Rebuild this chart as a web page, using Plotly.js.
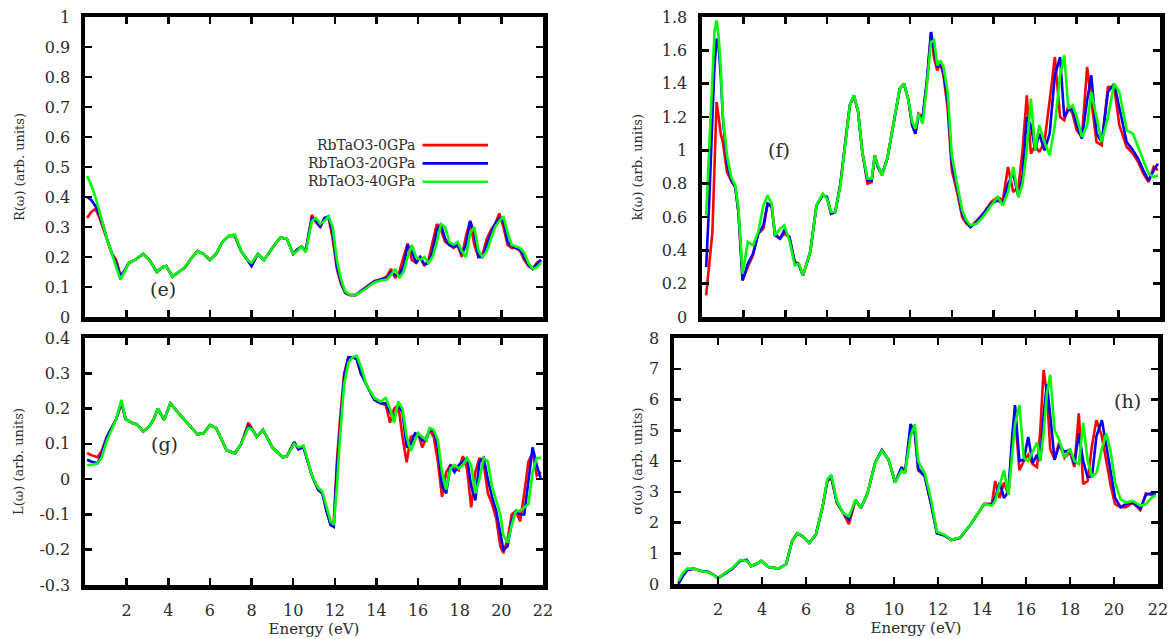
<!DOCTYPE html>
<html>
<head>
<meta charset="utf-8">
<script src="https://cdn.plot.ly/plotly-3.0.1.min.js"></script>
<style>html,body{margin:0;padding:0;background:#fff;}#chart{width:1171px;height:639px;}</style>
</head>
<body>
<div id="chart"></div>
<script>
// ---------- DATA ----------
const seriesNames = ['RbTaO3-0GPa', 'RbTaO3-20GPa', 'RbTaO3-40GPa'];
const xTickVals = [2, 4, 6, 8, 10, 12, 14, 16, 18, 20, 22];
const xTickText = ['2', '4', '6', '8', '10', '12', '14', '16', '18', '20', '22'];
const lossTickVals = [-0.3, -0.2, -0.1, 0, 0.1, 0.2, 0.3, 0.4];
const lossTickText = ['-0.3', '-0.2', '-0.1', '0', '0.1', '0.2', '0.3', '0.4'];

// (e) Reflectivity R(w)
const energyR = [0.1,0.3,0.5,0.7,0.9,1.1,1.3,1.5,1.7,1.9,
  2.1,2.4,2.8,3.1,3.45,3.7,3.9,4.2,4.5,4.8,
  5.1,5.4,5.7,6.0,6.3,6.6,6.9,7.2,7.5,7.8,
  8.0,8.3,8.6,8.9,9.2,9.4,9.7,10.0,10.2,10.4,
  10.6,10.9,11.1,11.3,11.5,11.7,11.9,12.1,12.3,12.5,
  12.7,13.0,13.3,13.6,13.9,14.2,14.5,14.7,14.9,15.1,
  15.3,15.5,15.7,15.9,16.1,16.3,16.5,16.7,16.9,17.1,
  17.3,17.5,17.7,17.9,18.1,18.3,18.5,18.7,18.9,19.1,
  19.3,19.5,19.7,19.9,20.1,20.3,20.5,20.7,20.9,21.1,
  21.3,21.5,21.7,21.9];
const R_0GPa = [0.33,0.35,0.36,0.33,0.29,0.25,0.21,0.19,0.14,0.15,
  0.18,0.19,0.21,0.19,0.15,0.165,0.17,0.135,0.15,0.165,
  0.195,0.22,0.21,0.19,0.21,0.25,0.27,0.27,0.22,0.19,
  0.17,0.21,0.19,0.22,0.25,0.265,0.26,0.21,0.225,0.235,
  0.22,0.34,0.315,0.30,0.33,0.33,0.26,0.16,0.11,0.08,
  0.073,0.073,0.09,0.105,0.12,0.125,0.135,0.16,0.13,0.15,
  0.2,0.245,0.19,0.18,0.2,0.17,0.19,0.25,0.31,0.29,
  0.25,0.24,0.23,0.24,0.2,0.27,0.32,0.24,0.2,0.21,
  0.26,0.29,0.31,0.345,0.3,0.24,0.23,0.23,0.22,0.19,
  0.17,0.16,0.18,0.19];
const R_20GPa = [0.40,0.39,0.37,0.34,0.30,0.25,0.21,0.18,0.135,0.155,
  0.18,0.19,0.21,0.19,0.15,0.165,0.17,0.135,0.15,0.165,
  0.195,0.22,0.21,0.19,0.21,0.25,0.27,0.27,0.22,0.19,
  0.17,0.21,0.19,0.22,0.25,0.265,0.26,0.21,0.225,0.235,
  0.22,0.33,0.32,0.30,0.33,0.335,0.28,0.17,0.115,0.082,
  0.074,0.073,0.088,0.105,0.118,0.125,0.13,0.15,0.14,0.14,
  0.17,0.24,0.22,0.18,0.2,0.175,0.18,0.22,0.29,0.31,
  0.26,0.24,0.235,0.24,0.21,0.24,0.32,0.28,0.2,0.2,
  0.24,0.28,0.31,0.33,0.32,0.25,0.235,0.23,0.225,0.2,
  0.175,0.16,0.175,0.19];
const R_40GPa = [0.47,0.44,0.40,0.35,0.30,0.25,0.21,0.17,0.125,0.15,
  0.18,0.19,0.21,0.19,0.15,0.165,0.17,0.135,0.15,0.165,
  0.195,0.22,0.21,0.19,0.21,0.25,0.27,0.275,0.22,0.19,
  0.18,0.21,0.19,0.22,0.25,0.265,0.26,0.21,0.22,0.235,
  0.215,0.32,0.33,0.31,0.32,0.335,0.3,0.19,0.125,0.085,
  0.075,0.073,0.085,0.1,0.115,0.122,0.125,0.14,0.16,0.13,
  0.15,0.2,0.24,0.2,0.19,0.2,0.18,0.2,0.25,0.31,
  0.3,0.25,0.24,0.25,0.22,0.2,0.28,0.3,0.22,0.2,
  0.22,0.26,0.3,0.32,0.335,0.28,0.24,0.235,0.23,0.215,
  0.18,0.16,0.165,0.18];

// (f) Extinction coefficient k(w)
const energyK = [0.2,0.35,0.5,0.6,0.7,0.8,0.9,1.0,1.2,1.4,
  1.6,1.75,1.95,2.2,2.45,2.7,2.95,3.15,3.35,3.5,
  3.75,3.95,4.2,4.45,4.65,4.85,5.2,5.5,5.8,6.0,
  6.2,6.4,6.65,6.9,7.1,7.3,7.5,7.7,7.95,8.15,
  8.3,8.45,8.65,8.9,9.2,9.5,9.7,9.9,10.1,10.25,
  10.4,10.6,10.8,11.0,11.15,11.3,11.45,11.6,11.8,12.0,
  12.25,12.5,12.7,12.9,13.2,13.5,13.9,14.2,14.45,14.7,
  14.95,15.2,15.4,15.6,15.8,16.0,16.2,16.45,16.7,16.95,
  17.2,17.4,17.6,17.8,18.0,18.25,18.5,18.7,18.95,19.2,
  19.5,19.8,20.05,20.4,20.7,20.95,21.2,21.45,21.7,21.9];
const K_0GPa = [0.13,0.3,0.51,0.9,1.29,1.2,1.1,1.05,0.87,0.82,
  0.78,0.63,0.22,0.3,0.37,0.5,0.53,0.68,0.67,0.5,
  0.47,0.5,0.48,0.33,0.32,0.25,0.39,0.67,0.73,0.72,
  0.62,0.63,0.8,1.07,1.27,1.32,1.23,0.99,0.8,0.81,
  0.97,0.9,0.85,0.95,1.15,1.37,1.4,1.31,1.15,1.1,
  1.22,1.2,1.4,1.71,1.55,1.48,1.52,1.45,1.25,0.88,
  0.75,0.6,0.56,0.54,0.58,0.62,0.69,0.72,0.7,0.9,
  0.75,0.78,1.0,1.33,0.98,1.03,0.99,1.05,1.3,1.56,
  1.2,1.18,1.27,1.22,1.12,1.08,1.5,1.3,1.05,1.03,
  1.38,1.38,1.15,1.02,0.98,0.93,0.86,0.81,0.9,0.88];
const K_20GPa = [0.3,0.7,1.2,1.5,1.67,1.62,1.45,1.2,0.92,0.82,
  0.78,0.63,0.22,0.32,0.38,0.5,0.55,0.68,0.66,0.49,
  0.47,0.52,0.48,0.33,0.31,0.25,0.39,0.67,0.73,0.72,
  0.62,0.63,0.8,1.07,1.27,1.33,1.23,0.99,0.82,0.82,
  0.97,0.9,0.86,0.95,1.15,1.37,1.4,1.31,1.15,1.1,
  1.21,1.2,1.42,1.71,1.6,1.5,1.53,1.47,1.3,0.92,
  0.78,0.62,0.57,0.54,0.57,0.62,0.68,0.7,0.68,0.8,
  0.86,0.72,0.85,1.2,1.15,1.0,1.1,1.0,1.1,1.45,
  1.56,1.2,1.24,1.25,1.15,1.07,1.3,1.45,1.1,1.05,
  1.35,1.4,1.25,1.05,1.0,0.95,0.88,0.82,0.88,0.92];
const K_40GPa = [0.61,1.05,1.4,1.71,1.78,1.68,1.5,1.21,0.97,0.84,
  0.79,0.65,0.26,0.45,0.43,0.51,0.67,0.73,0.68,0.49,
  0.53,0.55,0.46,0.31,0.32,0.25,0.39,0.67,0.74,0.71,
  0.63,0.63,0.79,1.07,1.27,1.33,1.23,0.99,0.83,0.83,
  0.97,0.91,0.85,0.95,1.15,1.37,1.4,1.31,1.17,1.13,
  1.22,1.16,1.39,1.65,1.66,1.51,1.54,1.5,1.35,0.97,
  0.8,0.64,0.58,0.55,0.56,0.6,0.67,0.72,0.67,0.75,
  0.9,0.72,0.8,1.0,1.31,1.0,1.15,1.05,0.97,1.15,
  1.45,1.57,1.25,1.27,1.2,1.08,1.15,1.35,1.2,1.05,
  1.2,1.4,1.35,1.12,1.1,1.02,0.95,0.86,0.84,0.85];

// (g) Energy loss L(w)
const energyL = [0.1,0.3,0.6,0.8,1.05,1.3,1.5,1.75,1.95,2.25,
  2.5,2.8,3.1,3.3,3.5,3.8,4.1,4.45,4.9,5.4,
  5.7,6.0,6.3,6.8,7.2,7.5,7.85,8.05,8.25,8.55,
  9.0,9.5,9.7,10.05,10.25,10.5,10.9,11.2,11.4,11.6,
  11.8,11.95,12.1,12.25,12.45,12.65,12.85,13.05,13.25,13.5,
  13.9,14.2,14.45,14.65,14.85,15.05,15.25,15.45,15.65,15.85,
  16.0,16.2,16.4,16.55,16.75,16.95,17.15,17.35,17.55,17.75,
  17.95,18.15,18.35,18.55,18.75,18.95,19.15,19.35,19.55,19.75,
  19.95,20.1,20.3,20.5,20.7,20.9,21.1,21.3,21.5,21.7,
  21.9];
const L_0GPa = [0.074,0.068,0.062,0.08,0.12,0.15,0.17,0.215,0.17,0.16,
  0.155,0.135,0.15,0.17,0.2,0.168,0.215,0.19,0.16,0.127,
  0.13,0.153,0.145,0.082,0.073,0.1,0.16,0.14,0.12,0.14,
  0.09,0.062,0.065,0.105,0.085,0.09,0.01,-0.03,-0.04,-0.09,
  -0.13,-0.12,0.05,0.17,0.3,0.345,0.345,0.34,0.3,0.27,
  0.225,0.215,0.21,0.16,0.2,0.21,0.12,0.048,0.12,0.125,
  0.13,0.09,0.12,0.14,0.12,0.05,-0.05,0.02,0.04,0.035,
  0.025,0.065,0.03,-0.08,0.02,0.06,0.045,-0.04,-0.07,-0.11,
  -0.19,-0.21,-0.17,-0.1,-0.09,-0.12,-0.04,0.05,0.075,0.01,
  0.02];
const L_20GPa = [0.055,0.05,0.045,0.07,0.12,0.15,0.17,0.22,0.17,0.16,
  0.155,0.135,0.15,0.17,0.2,0.168,0.215,0.19,0.16,0.127,
  0.13,0.153,0.145,0.082,0.073,0.1,0.15,0.14,0.12,0.14,
  0.09,0.062,0.065,0.105,0.085,0.09,0.01,-0.03,-0.04,-0.09,
  -0.13,-0.135,0.03,0.15,0.29,0.345,0.345,0.34,0.3,0.27,
  0.225,0.215,0.215,0.19,0.17,0.21,0.19,0.09,0.1,0.13,
  0.125,0.11,0.11,0.14,0.135,0.09,-0.02,-0.04,0.04,0.02,
  0.04,0.05,0.06,-0.02,-0.06,0.05,0.06,0.0,-0.05,-0.09,
  -0.15,-0.2,-0.19,-0.12,-0.09,-0.1,-0.1,0.0,0.09,0.04,
  0.0];
const L_40GPa = [0.04,0.04,0.045,0.06,0.11,0.145,0.17,0.225,0.17,0.16,
  0.155,0.135,0.15,0.17,0.2,0.168,0.215,0.19,0.16,0.127,
  0.13,0.153,0.145,0.082,0.073,0.1,0.145,0.14,0.12,0.14,
  0.09,0.062,0.065,0.1,0.09,0.095,0.01,-0.025,-0.035,-0.08,
  -0.12,-0.13,-0.02,0.12,0.27,0.33,0.345,0.35,0.32,0.27,
  0.23,0.22,0.23,0.2,0.16,0.22,0.2,0.12,0.08,0.11,
  0.13,0.12,0.11,0.145,0.14,0.11,0.02,-0.03,0.03,0.04,
  0.03,0.04,0.06,0.04,-0.04,0.0,0.06,0.05,-0.02,-0.06,
  -0.1,-0.16,-0.18,-0.13,-0.09,-0.09,-0.08,-0.07,0.02,0.06,
  0.06];

// (h) Optical conductivity sigma(w)
const energyS = [0.2,0.4,0.6,0.9,1.2,1.55,1.8,2.0,2.3,2.65,
  3.0,3.3,3.5,3.75,3.97,4.3,4.75,5.1,5.37,5.6,
  5.85,6.15,6.45,6.75,6.97,7.15,7.4,7.7,7.95,8.25,
  8.5,8.8,9.15,9.45,9.75,10.05,10.35,10.5,10.75,10.95,
  11.1,11.4,11.7,11.95,12.3,12.6,13.0,13.5,14.1,14.45,
  14.6,14.8,15.0,15.2,15.37,15.5,15.7,15.9,16.1,16.3,
  16.5,16.65,16.8,16.95,17.1,17.3,17.5,17.75,18.0,18.2,
  18.4,18.6,18.8,19.0,19.2,19.45,19.65,19.85,20.05,20.3,
  20.55,20.85,21.2,21.45,21.7,21.9];
const S_0GPa = [0.03,0.3,0.46,0.5,0.42,0.39,0.3,0.2,0.33,0.5,
  0.75,0.78,0.58,0.65,0.75,0.55,0.5,0.65,1.4,1.65,
  1.55,1.33,1.6,2.5,3.35,3.45,2.65,2.3,1.95,2.73,
  2.47,2.96,3.95,4.33,4.05,3.3,3.8,3.65,5.0,4.9,
  3.7,3.5,2.55,1.65,1.58,1.43,1.5,1.95,2.6,2.6,
  3.35,2.8,3.3,2.9,4.6,5.5,3.7,4.0,4.2,3.9,
  3.8,5.0,6.96,6.2,4.4,4.05,4.6,4.1,4.3,3.8,
  5.55,3.25,3.35,4.5,5.33,4.8,4.0,3.2,2.6,2.5,
  2.5,2.65,2.4,2.95,2.9,2.95];
const S_20GPa = [0.0,0.25,0.45,0.5,0.43,0.4,0.3,0.18,0.33,0.5,
  0.75,0.78,0.58,0.65,0.75,0.55,0.5,0.65,1.4,1.65,
  1.55,1.33,1.62,2.5,3.35,3.5,2.65,2.3,2.1,2.73,
  2.47,2.96,3.97,4.36,4.05,3.3,3.8,3.6,5.2,4.95,
  3.75,3.5,2.55,1.65,1.58,1.43,1.5,1.95,2.6,2.6,
  2.8,3.3,2.8,3.0,4.78,5.82,4.0,4.05,4.78,3.93,
  4.2,4.0,5.5,6.5,5.5,4.04,4.5,4.3,4.36,3.9,
  4.9,4.0,3.48,3.5,4.8,5.33,4.5,3.7,2.8,2.5,
  2.6,2.65,2.45,2.9,2.95,2.9];
const S_40GPa = [0.1,0.35,0.5,0.5,0.42,0.38,0.3,0.18,0.35,0.52,
  0.78,0.76,0.58,0.65,0.75,0.55,0.5,0.65,1.4,1.65,
  1.55,1.33,1.62,2.5,3.4,3.55,2.7,2.3,2.2,2.73,
  2.47,2.96,3.95,4.33,4.05,3.3,3.7,3.6,4.8,5.2,
  4.0,3.6,2.7,1.7,1.6,1.43,1.52,1.95,2.6,2.55,
  2.7,3.2,3.7,2.9,4.3,5.2,5.82,4.1,4.0,4.3,
  4.6,4.0,4.9,6.2,6.8,5.0,4.7,4.1,4.4,4.0,
  3.9,5.24,4.0,3.5,3.6,4.4,4.9,4.3,3.3,2.75,
  2.65,2.7,2.55,2.6,2.8,2.9];

// ---------- STYLE ----------
const FONT = 'DejaVu Serif';
const COLORS = ['#ff0000', '#0000ff', '#00ff00'];
const LW = 2.6;
const TXT = '#2b2b2b';

function lines(xs, ys, xa, ya) {
  return ys.map((y, i) => ({
    type: 'scatter', mode: 'lines', x: xs, y: y, name: seriesNames[i],
    xaxis: xa, yaxis: ya, showlegend: false,
    line: {color: COLORS[i], width: LW}
  }));
}

const data = [].concat(
  lines(energyR, [R_0GPa, R_20GPa, R_40GPa], 'x', 'y'),
  lines(energyK, [K_0GPa, K_20GPa, K_40GPa], 'x2', 'y2'),
  lines(energyL, [L_0GPa, L_20GPa, L_40GPa], 'x3', 'y3'),
  lines(energyS, [S_0GPa, S_20GPa, S_40GPa], 'x4', 'y4')
);

const W = 1171, H = 639;
function dx(a, b) { return [a / W, b / W]; }
function dy(top, bottom) { return [1 - bottom / H, 1 - top / H]; }

function tickFont() { return {family: FONT, size: 16, color: TXT}; }
function titleFont() { return {family: FONT, size: 13, color: TXT}; }

function xAxis(domain, anchor, labels) {
  const a = {
    domain: domain, anchor: anchor, range: [0, 22], autorange: false,
    tickmode: 'array', tickvals: xTickVals, ticktext: xTickText,
    ticks: 'inside', ticklen: 7, tickwidth: 2.5, tickcolor: '#000',
    showline: true, linewidth: 4.5, linecolor: '#000', mirror: 'ticks',
    showgrid: false, zeroline: false, showticklabels: labels,
    ticklabeloverflow: 'allow',
    tickfont: tickFont(), ticklabelstandoff: 7, automargin: false
  };
  if (labels) {
    a.title = {text: 'Energy (eV)', font: {family: FONT, size: 15, color: TXT}, standoff: 3};
  }
  return a;
}
function yAxis(domain, anchor, range, dtick, title, standoff, extra) {
  return Object.assign({
    domain: domain, anchor: anchor, range: range, autorange: false,
    tick0: 0, dtick: dtick,
    ticks: 'inside', ticklen: 7, tickwidth: 2.5, tickcolor: '#000',
    showline: true, linewidth: 4.5, linecolor: '#000', mirror: 'ticks',
    showgrid: false, zeroline: false, ticklabeloverflow: 'allow',
    tickfont: tickFont(), ticklabelstandoff: 7, automargin: false,
    title: {text: title, font: titleFont(), standoff: standoff}
  }, extra || {});
}

const labelFont = {family: FONT, size: 19, color: TXT};
const legFont = {family: FONT, size: 14, color: TXT};
const legRows = [0.573, 0.512, 0.451];

const annotations = [
  {xref: 'x', yref: 'y', x: 3.75, y: 0.095, text: '(e)', showarrow: false, font: labelFont},
  {xref: 'x2', yref: 'y2', x: 3.7, y: 1.0, text: '(f)', showarrow: false, font: labelFont},
  {xref: 'x3', yref: 'y3', x: 3.8, y: 0.1, text: '(g)', showarrow: false, font: labelFont},
  {xref: 'x4', yref: 'y4', x: 20.6, y: 5.95, text: '(h)', showarrow: false, font: labelFont},
  {xref: 'x domain', yref: 'y domain', x: 0.724, y: legRows[1],
    xanchor: 'right', yanchor: 'middle', align: 'right', showarrow: false,
    text: seriesNames.join('<br>'), font: legFont}
];
const shapes = seriesNames.map((n, i) => ({
  type: 'line', xref: 'x domain', yref: 'y domain',
  x0: 0.737, x1: 0.88, y0: legRows[i], y1: legRows[i],
  line: {color: COLORS[i], width: LW}
}));

const layout = {
  width: W, height: H,
  margin: {l: 0, r: 0, t: 0, b: 0},
  paper_bgcolor: '#fff', plot_bgcolor: '#fff',
  showlegend: false,
  font: {family: FONT, color: TXT},
  xaxis: xAxis(dx(85, 543), 'y', false),
  yaxis: yAxis(dy(17, 317), 'x', [0, 1], 0.1, 'R(ω) (arb. units)', 19),
  xaxis2: xAxis(dx(702, 1160), 'y2', false),
  yaxis2: yAxis(dy(17, 317), 'x2', [0, 1.8], 0.2, 'k(ω) (arb. units)', 18),
  xaxis3: xAxis(dx(85, 543), 'y3', true),
  yaxis3: yAxis(dy(338, 585), 'x3', [-0.3, 0.4], 0.1, 'L(ω) (arb. units)', 14,
    {tickmode: 'array', tickvals: lossTickVals, ticktext: lossTickText}),
  xaxis4: xAxis(dx(674, 1158), 'y4', true),
  yaxis4: yAxis(dy(338, 584), 'x4', [0, 8], 1, 'σ(ω) (arb. units)', 5),
  annotations: annotations,
  shapes: shapes
};

Plotly.newPlot('chart', data, layout, {staticPlot: true, displayModeBar: false});
</script>
</body>
</html>
